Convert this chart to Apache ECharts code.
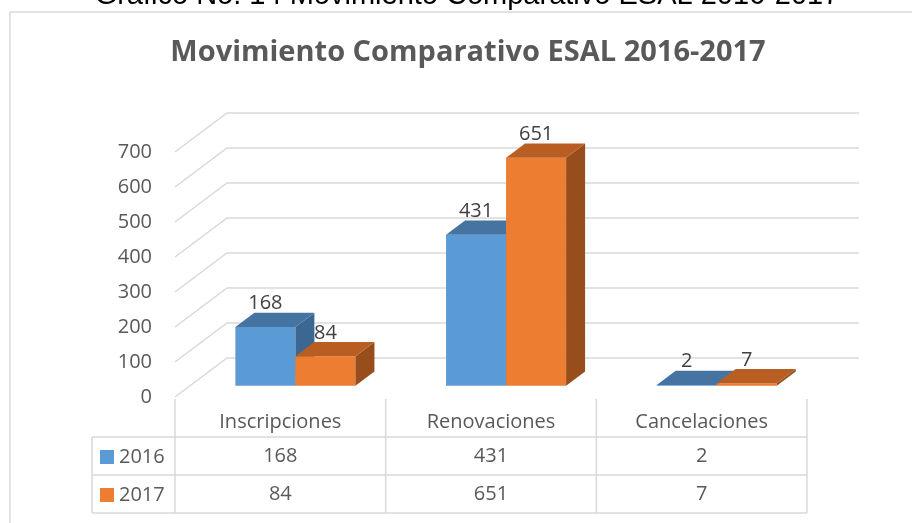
<!DOCTYPE html>
<html>
<head>
<meta charset="utf-8">
<title>Movimiento Comparativo ESAL 2016-2017</title>
<script src="https://cdn.jsdelivr.net/npm/echarts@6/dist/echarts.min.js"></script>
<style>
html, body { margin: 0; padding: 0; background: #fff; }
#grafico { width: 912px; height: 523px; }
</style>
</head>
<body>
<div id="grafico"></div>
<script>
var categorias = ['Inscripciones', 'Renovaciones', 'Cancelaciones'];
var anios = ['2016', '2017'];
var valores2016 = [168, 431, 2];
var valores2017 = [84, 651, 7];
var ticksY = [0, 100, 200, 300, 400, 500, 600, 700];

var colores = [
    {frente: '#5B9BD5', arriba: '#4674A2', lado: '#3B6792'},
    {frente: '#ED7D31', arriba: '#B85E22', lado: '#984E1C'}
];

// profundidad del piso 3D y posicion de las barras dentro de el
var PX = 52, PY = -39;
var inicioBarra = 0.29, fondoBarra = 0.365;
var gris = '#D9D9D9';
var texto = '#595959';

var myChart = echarts.init(document.getElementById('grafico'));

function barra3D(serie) {
    return function (params, api) {
        var i = api.value(0);
        var v = api.value(1);
        var base = api.coord([i, 0]);
        var tope = api.coord([i, v]);
        var ancho = api.size([1, 0])[0] * 0.285;
        var ox = PX * inicioBarra, oy = PY * inicioBarra;
        var dx = PX * fondoBarra, dy = PY * fondoBarra;
        var xl = base[0] - ancho + serie * ancho + ox;
        var xr = xl + ancho;
        var y0 = base[1] + oy;
        var y1 = tope[1] + oy;
        var c = colores[serie];
        return {
            type: 'group',
            children: [
                {type: 'rect', shape: {x: xl, y: y1, width: ancho, height: y0 - y1}, style: {fill: c.frente}},
                {type: 'polygon', shape: {points: [[xr, y1], [xr + dx, y1 + dy], [xr + dx, y0 + dy], [xr, y0]]}, style: {fill: c.lado}},
                {type: 'polygon', shape: {points: [[xl, y1], [xl + dx, y1 + dy], [xr + dx, y1 + dy], [xr, y1]]}, style: {fill: c.arriba}},
                {type: 'text', z2: 10, style: {text: String(v), x: (xl + xr) / 2, y: y1 + dy - 9, align: 'center', verticalAlign: 'middle', font: '20px "Open Sans"', fill: '#404040'}}
            ]
        };
    };
}

// lineas de la rejilla con su diagonal de profundidad
function rejilla(params, api) {
    var cs = params.coordSys;
    var y = api.coord([0, api.value(1)])[1];
    return {
        type: 'polyline',
        shape: {points: [[cs.x, y], [cs.x + PX, y + PY], [cs.x + cs.width + PX, y + PY]]},
        style: {stroke: gris, lineWidth: 1.5, fill: null}
    };
}

var option = {
    animation: false,
    grid: {left: 175, right: 105, top: 152, bottom: 126},
    legend: {
        data: anios,
        orient: 'vertical',
        left: 100,
        top: 447,
        padding: 0,
        icon: 'rect',
        itemWidth: 14,
        itemHeight: 14,
        itemGap: 18,
        selectedMode: false,
        textStyle: {fontFamily: 'Open Sans', fontSize: 20, color: texto}
    },
    xAxis: {
        type: 'category',
        data: categorias,
        axisLine: {show: false},
        axisTick: {show: false},
        splitLine: {show: false},
        axisLabel: {margin: 15, fontFamily: 'Open Sans', fontSize: 20, color: texto}
    },
    yAxis: {
        type: 'value',
        min: 0,
        max: 700,
        interval: 100,
        axisLine: {show: false},
        axisTick: {show: false},
        splitLine: {show: false},
        axisLabel: {margin: 23, fontFamily: 'Open Sans', fontSize: 20, color: texto}
    },
    series: [
        {
            type: 'custom',
            z: 1,
            silent: true,
            renderItem: rejilla,
            data: ticksY.map(function (t) { return [0, t]; })
        },
        {
            name: anios[0],
            type: 'custom',
            z: 2,
            itemStyle: {color: colores[0].frente},
            renderItem: barra3D(0),
            data: valores2016.map(function (v, i) { return [i, v]; })
        },
        {
            name: anios[1],
            type: 'custom',
            z: 2,
            itemStyle: {color: colores[1].frente},
            renderItem: barra3D(1),
            data: valores2017.map(function (v, i) { return [i, v]; })
        }
    ]
};

myChart.setOption(option);

// marco, titulos y tabla de datos debajo del grafico
function linea(x1, y1, x2, y2) {
    return {type: 'line', shape: {x1: x1, y1: y1, x2: x2, y2: y2}, style: {stroke: gris, lineWidth: 1.5}, silent: true};
}

function celda(txt, x, y) {
    return {type: 'text', silent: true, style: {text: txt, x: x, y: y, align: 'center', verticalAlign: 'middle', font: '20px "Open Sans"', fill: texto}};
}

var c0 = myChart.convertToPixel({xAxisIndex: 0}, 0);
var c1 = myChart.convertToPixel({xAxisIndex: 0}, 1);
var banda = c1 - c0;
var izq = c0 - banda / 2;
var der = izq + banda * categorias.length;
var filas = [456, 494];
var lineasFila = [437, 475, 513];
var claveIzq = 92;

var elementos = [
    {type: 'rect', silent: true, z: -1, shape: {x: 10, y: 12, width: 1000, height: 600}, style: {fill: null, stroke: gris, lineWidth: 1.5}},
    {type: 'text', silent: true, style: {text: 'Gráfico No. 14 Movimiento Comparativo ESAL 2016-2017', x: 467, y: -4, align: 'center', verticalAlign: 'middle', font: '29px "Liberation Sans"', fill: '#000'}},
    {type: 'text', silent: true, style: {text: 'Movimiento Comparativo ESAL 2016-2017', x: 468, y: 53, align: 'center', verticalAlign: 'middle', font: 'bold 29px "Open Sans"', fill: texto}}
];

for (var k = 0; k <= categorias.length; k++) {
    elementos.push(linea(izq + k * banda, 399, izq + k * banda, lineasFila[2]));
}
lineasFila.forEach(function (y) {
    elementos.push(linea(claveIzq, y, der, y));
});
elementos.push(linea(claveIzq, lineasFila[0], claveIzq, lineasFila[2]));

[valores2016, valores2017].forEach(function (vals, f) {
    vals.forEach(function (v, i) {
        elementos.push(celda(String(v), myChart.convertToPixel({xAxisIndex: 0}, i), filas[f]));
    });
});

myChart.setOption({graphic: {elements: elementos}});
</script>
</body>
</html>
